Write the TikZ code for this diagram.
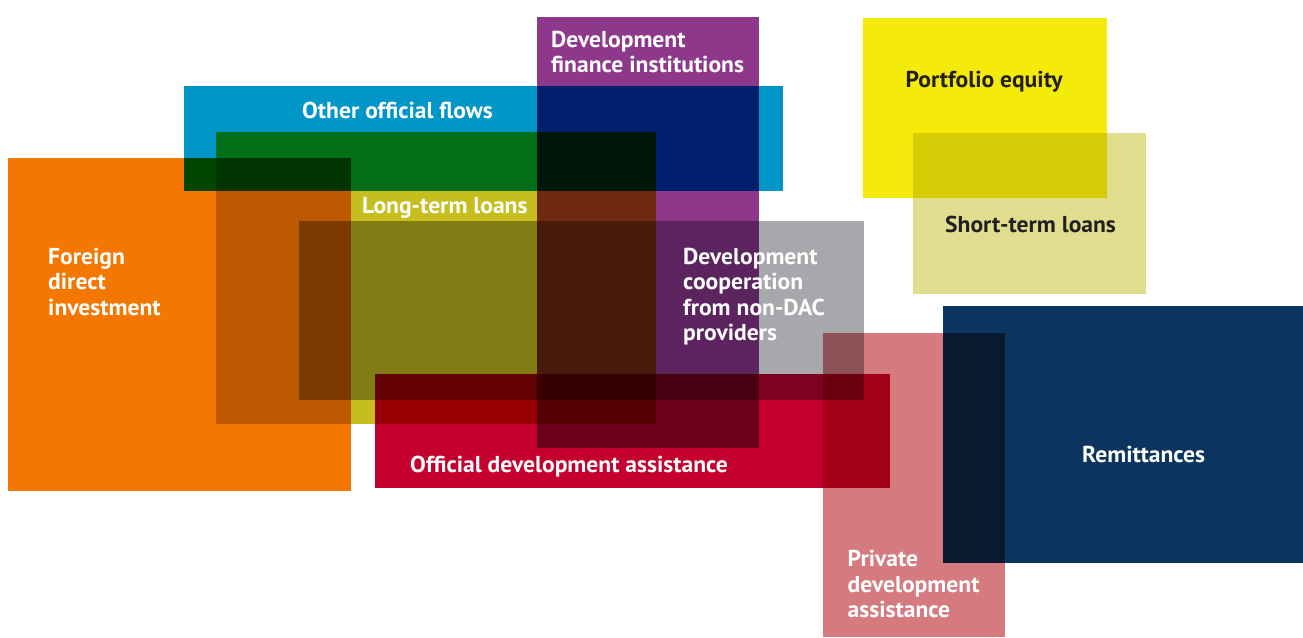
\documentclass[tikz,border=0pt]{standalone}
\usepackage{fontspec}
\setmainfont{PT Sans}[FakeStretch=1.025]
\definecolor{cOrange}{HTML}{F37700}
\definecolor{cCyan}{HTML}{0096C8}
\definecolor{cPurple}{HTML}{8E388C}
\definecolor{cOlive}{HTML}{C6BD1E}
\definecolor{cGrey}{HTML}{A7A8AC}
\definecolor{cRed}{HTML}{C4002F}
\definecolor{cYellow}{HTML}{F5EB0A}
\definecolor{cKhaki}{HTML}{E0DD8F}
\definecolor{cPink}{HTML}{D57B80}
\definecolor{cNavy}{HTML}{0B345E}
\definecolor{cDark}{HTML}{231F20}
\tikzset{
  box/.style={blend mode=multiply},
  lbl/.style={anchor=base west, inner sep=0pt, align=left, text=white,
    font=\fontsize{23}{25.5}\selectfont\bfseries},
  dlbl/.style={lbl, text=cDark}
}
\begin{document}
\begin{tikzpicture}[x=1pt,y=-1pt]
\useasboundingbox (0,0) rectangle (1303,637);
\fill[white] (0,0) rectangle (1303,637);
% boxes (multiply blended)
\fill[box, cOrange] (8,158) rectangle (351,491);
\fill[box, cCyan] (184,86) rectangle (783,191);
\fill[box, cPurple] (537,17) rectangle (759,448);
\fill[box, cOlive] (216,132) rectangle (656,424);
\fill[box, cGrey] (299,221) rectangle (864,400);
\fill[box, cRed] (375,374) rectangle (890,488);
\fill[box, cYellow] (863,18) rectangle (1107,198);
\fill[box, cKhaki] (913,133) rectangle (1146,294);
\fill[box, cPink] (823,333) rectangle (1005,637);
\fill[box, cNavy] (943,306) rectangle (1303,563);
% labels (base = baseline of last line)
\node[lbl] (dfi) at (551,72.5) {Development\\finance institutions};
\node[lbl] (oof) at (302,118) {Other official flows};
\node[lbl] (ltl) at (362,213) {Long-term loans};
\node[lbl] (fdi) at (48,315) {Foreign\\direct\\investment};
\node[lbl] (dcn) at (683,340.5) {Development\\cooperation\\from non-DAC\\providers};
\node[lbl] (oda) at (410,472.5) {Official development assistance};
\node[dlbl] (pe) at (905.5,87.5) {Portfolio equity};
\node[dlbl] (stl) at (945,232.5) {Short-term loans};
\node[lbl] (rem) at (1082,462) {Remittances};
\node[lbl] (pda) at (847.5,617.5) {Private\\development\\assistance};
\end{tikzpicture}
\end{document}
